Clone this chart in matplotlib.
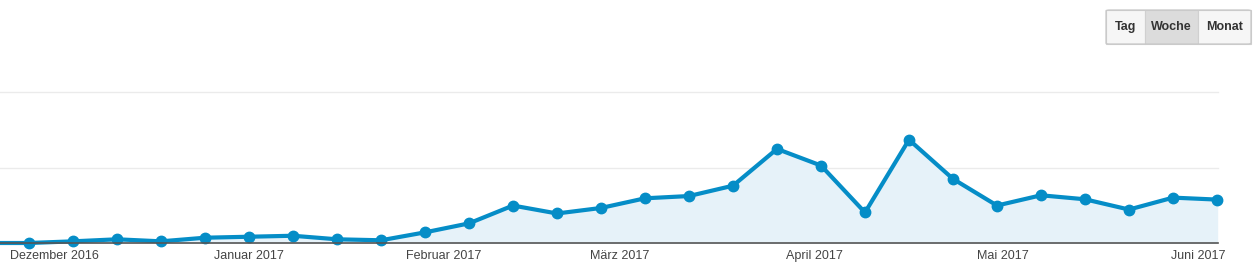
import numpy as np
import pandas as pd
import matplotlib
matplotlib.use('Agg')
import matplotlib.pyplot as plt
import matplotlib.dates as mdates
from matplotlib.patches import FancyBboxPatch, Rectangle

plt.rcParams['font.family'] = ['Liberation Sans', 'DejaVu Sans']

# weekly sessions (axis labels hidden in the original, arbitrary units)
weeks = pd.date_range('2016-11-20', periods=29, freq='W-SUN')
sessions = [0, 0, 2.2, 4.9, 2.2, 7.0, 8.3, 9.6, 4.9, 3.6, 14.1, 26.0, 49.6, 39.1,
            46.4, 59.2, 62.2, 75.9, 124.6, 102.6, 40.4, 136.8, 84.9, 49.6, 63.2,
            57.9, 44.3, 60.1, 57.5]
month_ticks = pd.to_datetime(['2016-12-01', '2017-01-01', '2017-02-01', '2017-03-01',
                              '2017-04-01', '2017-05-01', '2017-06-01'])
month_labels = ['Dezember 2016', 'Januar 2017', 'Februar 2017', 'März 2017',
                'April 2017', 'Mai 2017', 'Juni 2017']
buttons = ['Tag', 'Woche', 'Monat']
selected = 'Woche'

W, H = 1256, 271
fig = plt.figure(figsize=(W / 100, H / 100), dpi=100)
fig.patch.set_facecolor('white')

ax = fig.add_axes([0, 28 / H, 1218 / W, (243 - 92) / H])
blue = '#058DC7'
ax.fill_between(weeks, sessions, color='#E6F2F9', zorder=1)
ax.plot(weeks, sessions, color=blue, lw=3, marker='o', ms=7.5, zorder=3,
        clip_on=True, solid_joinstyle='round')

x0 = mdates.date2num(pd.Timestamp('2017-01-01')) - 249 / (44 / 7)
x1 = x0 + 1218 / (44 / 7)
ax.set_xlim(x0, x1)
ax.set_ylim(0, 200)
for g in (100, 200):
    ax.axhline(g, color='#ebebeb', lw=1, zorder=0)
ax.axhline(0, color='#555555', lw=1.2, zorder=4)

for s in ax.spines.values():
    s.set_visible(False)
ax.set_yticks([])
ax.set_xticks(month_ticks)
ax.set_xticklabels(month_labels)
ax.tick_params(axis='x', length=0, pad=5, labelsize=9, labelcolor='#444444')
for line in ax.lines:
    line.set_clip_on(False)

# Tag / Woche / Monat switch
edges = [1106, 1145, 1198, 1251]
top, bot = 10, 44
for i, name in enumerate(buttons):
    l, r = edges[i], edges[i + 1]
    fc = '#dcdcdc' if name == selected else '#f6f6f6'
    fig.patches.append(Rectangle((l / W, 1 - bot / H), (r - l) / W, (bot - top) / H,
                                 transform=fig.transFigure, facecolor=fc,
                                 edgecolor='#d0d0d0', lw=0.8, zorder=1))
    fig.text((l + r) / 2 / W, 1 - (top + bot) / 2 / H, name, ha='center', va='center',
             fontsize=9, fontweight='bold', color='#333333')
fig.patches.append(FancyBboxPatch((edges[0] / W, 1 - bot / H),
                                  (edges[-1] - edges[0]) / W, (bot - top) / H,
                                  boxstyle='round,pad=0,rounding_size=0.003',
                                  transform=fig.transFigure, facecolor='none',
                                  edgecolor='#c8c8c8', lw=0.9, zorder=2))

fig.savefig('out.png', dpi=100, facecolor='white')
